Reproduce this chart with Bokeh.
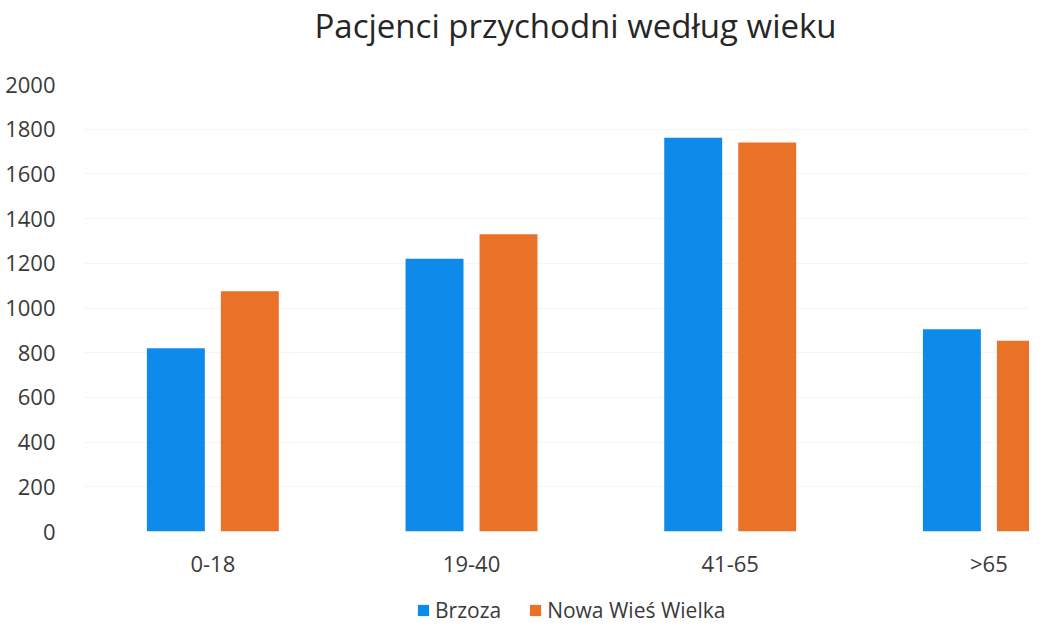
from bokeh.plotting import figure
from bokeh.layouts import column
from bokeh.models import ColumnDataSource, Range1d, FixedTicker, Legend, LegendItem
from bokeh.embed import file_html
from bokeh.resources import INLINE
from bokeh.transform import dodge

categories = ["0-18", "19-40", "41-65", ">65"]
brzoza = [820, 1220, 1762, 905]
nowa_wies = [1075, 1330, 1740, 853]
y_ticks = list(range(0, 2001, 200))
series_names = ["Brzoza", "Nowa Wieś Wielka"]
title_text = "Pacjenci przychodni według wieku"

FONT = "Open Sans"
TEXT = "#3a3a3a"
BLUE = "#0E8BEA"
ORANGE = "#EA7128"

xs = list(range(len(categories)))
src = ColumnDataSource(dict(x=xs, brzoza=brzoza, nowa=nowa_wies))

# title strip (its frame is aligned with the chart's frame)
p0 = figure(width=1029, height=60, output_backend="svg", toolbar_location=None,
            x_range=Range1d(0, 1), y_range=Range1d(0, 1),
            x_axis_location=None, y_axis_location=None, min_border=0,
            min_border_top=7, title=title_text)
p0.outline_line_color = None
p0.grid.grid_line_color = None
p0.title.text_font = FONT
p0.title.text_font_size = "33px"
p0.title.text_font_style = "normal"
p0.title.text_color = "#262626"
p0.title.align = "left"
p0.title.offset = 231
p0.title.standoff = 0

p = figure(width=1029, height=520, output_backend="svg", toolbar_location=None,
           x_range=Range1d(-0.5, 3.157), y_range=Range1d(0, 2000),
           min_border_left=83, min_border_right=0, min_border_top=24, min_border_bottom=47)
p.outline_line_color = None
p.background_fill_color = "white"
p.border_fill_color = "white"

p.vbar(x=dodge("x", -0.143, range=p.x_range), top="brzoza", width=0.224,
       source=src, fill_color=BLUE, line_color=None)
p.vbar(x=dodge("x", 0.143, range=p.x_range), top="nowa", width=0.224,
       source=src, fill_color=ORANGE, line_color=None)

p.xaxis.ticker = FixedTicker(ticks=xs)
p.xaxis.major_label_overrides = {i: c for i, c in enumerate(categories)}
p.yaxis.ticker = FixedTicker(ticks=y_ticks)
for ax in (p.xaxis, p.yaxis):
    ax.axis_line_color = None
    ax.major_tick_line_color = None
    ax.minor_tick_line_color = None
    ax.major_label_text_font = FONT
    ax.major_label_text_font_size = "22px"
    ax.major_label_text_color = TEXT
p.xaxis.major_label_standoff = 10
p.yaxis.major_label_standoff = 22

p.xgrid.grid_line_color = None
p.ygrid.grid_line_color = "#F5F5F5"

# legend strip below the chart (its frame is aligned with the chart's frame)
p2 = figure(width=1029, height=44, output_backend="svg", toolbar_location=None,
            x_range=Range1d(0, 1), y_range=Range1d(0, 1),
            x_axis_location=None, y_axis_location=None, min_border=0)
p2.outline_line_color = None
p2.grid.grid_line_color = None
# legend swatches (kept outside the visible range of this strip)
d1 = p2.vbar(x=[-5], top=[0], width=0.1, fill_color=BLUE, line_color=None)
d2 = p2.vbar(x=[-5], top=[0], width=0.1, fill_color=ORANGE, line_color=None)
legend = Legend(items=[LegendItem(label=series_names[0], renderers=[d1]),
                       LegendItem(label=series_names[1], renderers=[d2])],
                orientation="horizontal", location=(333, 0),
                label_text_font=FONT, label_text_font_size="21px", label_text_color=TEXT,
                glyph_width=14, glyph_height=14, label_standoff=5, spacing=27,
                margin=0, padding=2, border_line_color=None, background_fill_alpha=0)
p2.add_layout(legend)

layout = column(p0, p, p2, spacing=0)
open("out.html", "w").write(file_html(layout, INLINE))
